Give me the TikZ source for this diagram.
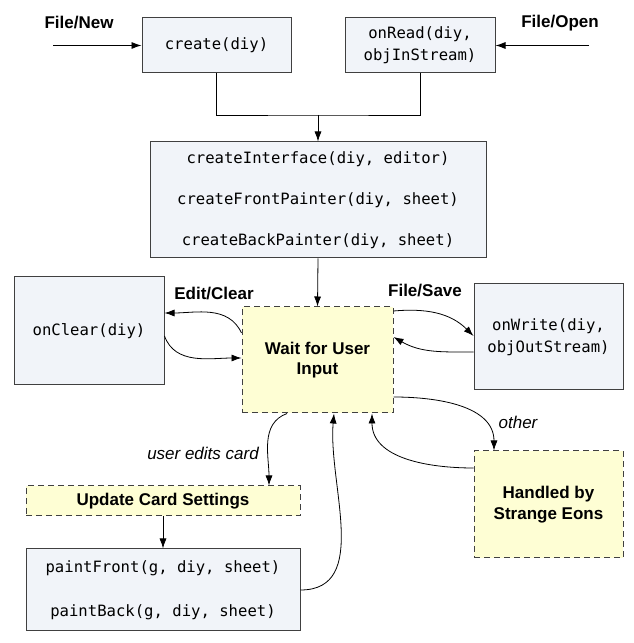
\documentclass[tikz,border=0pt]{standalone}
\usepackage{fontspec}
\setmainfont{Liberation Sans}
\setmonofont{DejaVu Sans Mono}
\usetikzlibrary{arrows.meta}
\definecolor{boxblue}{HTML}{F1F4F9}
\definecolor{boxyellow}{HTML}{FEFED4}
\definecolor{boxline}{HTML}{404040}

\begin{document}
\begin{tikzpicture}[x=1pt,y=1pt,
    code/.style={draw=boxline,fill=boxblue,line width=1pt,inner sep=0pt,align=center,
        font=\fontsize{15.6}{22}\selectfont\ttfamily},
    task/.style={draw=boxline,fill=boxyellow,line width=1pt,dash pattern=on 6pt off 4pt,
        inner sep=0pt,align=center,font=\fontsize{17}{20.5}\selectfont\bfseries},
    cmd/.style={font=\fontsize{17}{20}\selectfont\bfseries},
    cond/.style={font=\fontsize{17}{20}\selectfont\itshape},
    flow/.style={-{Latex[length=10pt,width=7pt]},line width=0.8pt}]
    \useasboundingbox (0,0) rectangle (633,643);

    \node[code,minimum width=149pt,minimum height=55pt] (create) at (216.5,597.5) {create(diy)};
    \node[code,minimum width=150pt,minimum height=55pt] (onRead) at (420,597.5) {onRead(diy,\\objInStream)};
    \node[code,minimum width=336pt,minimum height=116pt] (iface) at (318,443)
        {createInterface(diy, editor)\\[19pt]createFrontPainter(diy, sheet)\\[19pt]createBackPainter(diy, sheet)};
    \node[code,minimum width=150pt,minimum height=108pt] (onClear) at (89,312) {onClear(diy)};
    \node[task,minimum width=151pt,minimum height=106pt] (wait) at (317.5,283) {Wait for User\\Input};
    \node[code,minimum width=149pt,minimum height=106pt] (onWrite) at (548.5,306) {onWrite(diy,\\objOutStream)};
    \node[task,minimum width=149pt,minimum height=107pt] (handled) at (548.5,138.5) {Handled by\\Strange Eons};
    \node[task,minimum width=274pt,minimum height=30pt] (update) at (163,142) {Update Card Settings};
    \node[code,minimum width=274pt,minimum height=82pt] (paint) at (163,53)
        {paintFront(g, diy, sheet)\\[22pt]paintBack(g, diy, sheet)};

    \node[cmd] (fileNew) at (79,620) {File/New};
    \node[cmd] (fileOpen) at (560,620) {File/Open};
    \node[cmd] (editClear) at (214,349) {Edit/Clear};
    \node[cmd] (fileSave) at (425,352) {File/Save};
    \node[cond] (other) at (518,221) {other};
    \node[cond] (userEdits) at (203,190) {user edits card};

    \coordinate (newIn) at (53,597.5);
    \coordinate (openIn) at (589,597.5);
    \coordinate (join) at (318,528);

    \draw[flow] (newIn) -- (create.west);
    \draw[flow] (openIn) -- (onRead.east);
    \draw[line width=0.8pt] (create.south) |- (join) -| (onRead.south);
    \draw[flow] (join) -- (iface.north);
    \draw[flow] (iface.south) -- (wait.north);

    \draw[flow] ([yshift=27pt]wait.west) to[out=115,in=0] ([yshift=18pt]onClear.east);
    \draw[flow] ([yshift=-5pt]onClear.east) to[out=-70,in=180] ([yshift=2pt]wait.west);
    \draw[flow] ([yshift=49pt]wait.east) to[out=5,in=135] ([yshift=1pt]onWrite.west);
    \draw[flow] ([yshift=-15pt]onWrite.west) to[out=180,in=-30] ([yshift=23pt]wait.east);
    \draw[flow] ([yshift=-37pt]wait.east) to[out=0,in=90] ([xshift=-54.5pt]handled.north);
    \draw[flow] ([yshift=36.5pt]handled.west) to[out=180,in=-90] ([xshift=54.5pt]wait.south);
    \draw[flow] ([xshift=-30.5pt]wait.south) to[out=200,in=90] ([xshift=106pt]update.north);
    \draw[flow] (update.south) -- (paint.north);
    \draw[flow] (paint.east) to[out=0,in=-95] ([xshift=16.5pt]wait.south);
\end{tikzpicture}
\end{document}
